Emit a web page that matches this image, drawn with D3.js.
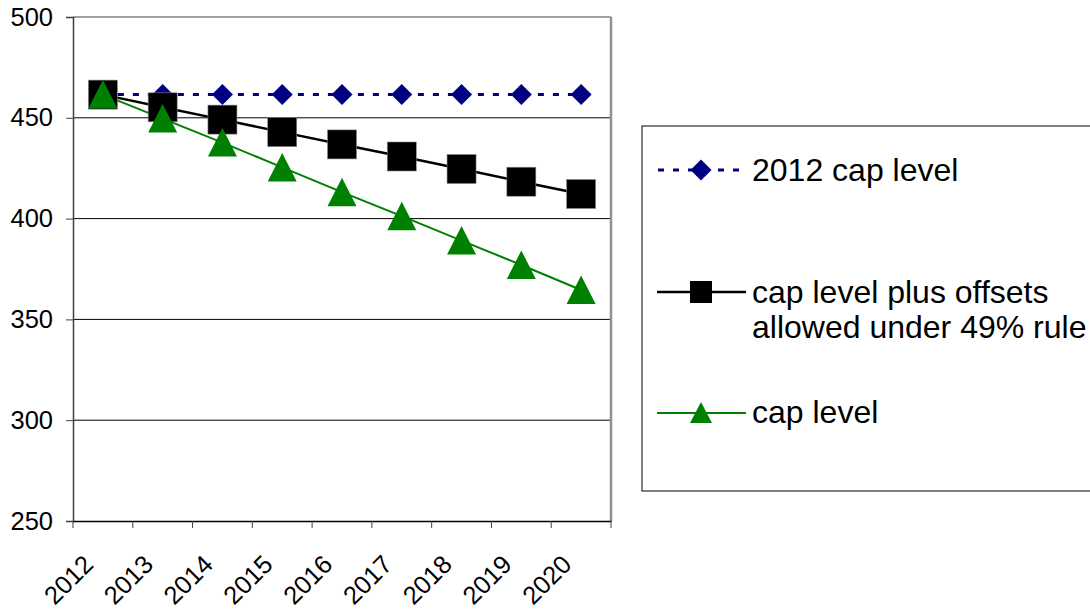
<!DOCTYPE html>
<html><head><meta charset="utf-8">
<script src="https://cdn.jsdelivr.net/npm/d3@7"></script>
<style>body{margin:0;background:#fff}svg{display:block}text{font-family:Arial,"Liberation Sans",sans-serif}</style>
</head><body>
<svg id="c" width="1090" height="609"></svg>
<script>
const years = ["2012","2013","2014","2015","2016","2017","2018","2019","2020"];
const cap2012 = [461.5,461.5,461.5,461.5,461.5,461.5,461.5,461.5,461.5];
const capPlusOffsets = [461.5,455.2,449.1,442.9,436.8,430.8,424.6,418.3,412.2];
const capLevel = [461.5,449.6,437.7,425.4,413.1,401.2,389.1,377.0,364.6];
const yTicks = [250,300,350,400,450,500];
const seriesNames = ["2012 cap level","cap level plus offsets\nallowed under 49% rule","cap level"];

const svg = d3.select("#c");
const L=73, R=611, T=17, B=521;
const x = d3.scaleBand().domain(years).range([L,R]);
const y = d3.scaleLinear().domain([250,500]).range([B,T]);

// gridlines
svg.append("g").selectAll("line").data([300,350,400,450]).join("line")
  .attr("x1",L).attr("x2",R).attr("y1",d=>y(d)).attr("y2",d=>y(d))
  .attr("stroke","#000").attr("stroke-width",1);
// top & right border
svg.append("line").attr("x1",L).attr("x2",R).attr("y1",y(500)).attr("y2",y(500)).attr("stroke","#808080").attr("stroke-width",1.5);
svg.append("line").attr("x1",R).attr("x2",R).attr("y1",T).attr("y2",B).attr("stroke","#909090").attr("stroke-width",2.5);

// y axis
const ya = svg.append("g").attr("transform",`translate(${L},0)`)
  .call(d3.axisLeft(y).tickValues(yTicks).tickSize(7).tickPadding(13));
ya.select(".domain").attr("stroke","#404040").attr("stroke-width",1.5);
ya.selectAll(".tick line").attr("stroke","#404040");
ya.selectAll("text").attr("font-size",25.5).attr("fill","#000").attr("font-family","Arial, 'Liberation Sans', sans-serif");

// x axis
const xa = svg.append("g").attr("transform",`translate(0,${B})`)
  .call(d3.axisBottom(x).tickSize(0).tickFormat(""));
xa.select(".domain").attr("stroke","#000").attr("stroke-width",1.5);
svg.append("g").selectAll("line").data(years.concat(["end"])).join("line")
  .attr("x1",(d,i)=>L+i*x.step()).attr("x2",(d,i)=>L+i*x.step())
  .attr("y1",B).attr("y2",B+7).attr("stroke","#404040");
svg.append("g").selectAll("text").data(years).join("text")
  .attr("transform",d=>`translate(${x(d)+x.bandwidth()/2-8},${B+45}) rotate(-45)`)
  .attr("text-anchor","end").attr("font-size",25.5).attr("fill","#000").text(d=>d);

const cx = d=>x(d)+x.bandwidth()/2;
const line = d3.line().x((d,i)=>cx(years[i])).y(d=>y(d));

// series
svg.append("path").datum(capLevel).attr("d",line).attr("fill","none").attr("stroke","#008000").attr("stroke-width",2);
svg.append("path").datum(capPlusOffsets).attr("d",line).attr("fill","none").attr("stroke","#000").attr("stroke-width",2.5);
svg.append("path").datum(cap2012).attr("d",line).attr("fill","none").attr("stroke","#000080").attr("stroke-width",3).attr("stroke-dasharray","6,9");

const diamond = (g,px,py)=>g.append("path").attr("d",`M${px},${py-10.5}L${px+10.5},${py}L${px},${py+10.5}L${px-10.5},${py}Z`).attr("fill","#000080");
const square = (g,px,py)=>g.append("rect").attr("x",px-14.5).attr("y",py-14.5).attr("width",29).attr("height",29).attr("fill","#000").attr("stroke","#888").attr("stroke-width",0.6);
const tri = (g,px,py)=>g.append("path").attr("d",`M${px},${py-14.5}L${px+14.5},${py+14}L${px-14.5},${py+14}Z`).attr("fill","#008000");

const mg = svg.append("g");
cap2012.forEach((v,i)=>diamond(mg,cx(years[i]),y(v)));
capPlusOffsets.forEach((v,i)=>square(mg,cx(years[i]),y(v)));
capLevel.forEach((v,i)=>tri(mg,cx(years[i]),y(v)));

// legend
const lg = svg.append("g");
lg.append("rect").attr("x",642).attr("y",126).attr("width",460).attr("height",365).attr("fill","#fff").attr("stroke","#000").attr("stroke-width",1);
const rows=[170,292,413];
lg.append("line").attr("x1",658).attr("x2",746).attr("y1",rows[0]).attr("y2",rows[0]).attr("stroke","#000080").attr("stroke-width",3).attr("stroke-dasharray","6,9");
diamond(lg,701,rows[0]);
lg.append("line").attr("x1",657).attr("x2",746).attr("y1",rows[1]).attr("y2",rows[1]).attr("stroke","#000").attr("stroke-width",2.5);
lg.append("rect").attr("x",701-11).attr("y",rows[1]-11).attr("width",22).attr("height",22).attr("fill","#000");
lg.append("line").attr("x1",657).attr("x2",746).attr("y1",rows[2]).attr("y2",rows[2]).attr("stroke","#008000").attr("stroke-width",2);
lg.append("path").attr("d",`M701,${rows[2]-11}L712,${rows[2]+10}L690,${rows[2]+10}Z`).attr("fill","#008000");

lg.append("text").attr("x",752).attr("y",181).attr("font-size",32).text(seriesNames[0]);
const t2 = lg.append("text").attr("x",752).attr("y",303).attr("font-size",32);
seriesNames[1].split("\n").forEach((s,i)=>t2.append("tspan").attr("x",752).attr("dy",i?35:0).text(s));
lg.append("text").attr("x",752).attr("y",423).attr("font-size",32).text(seriesNames[2]);
</script>
</body></html>
